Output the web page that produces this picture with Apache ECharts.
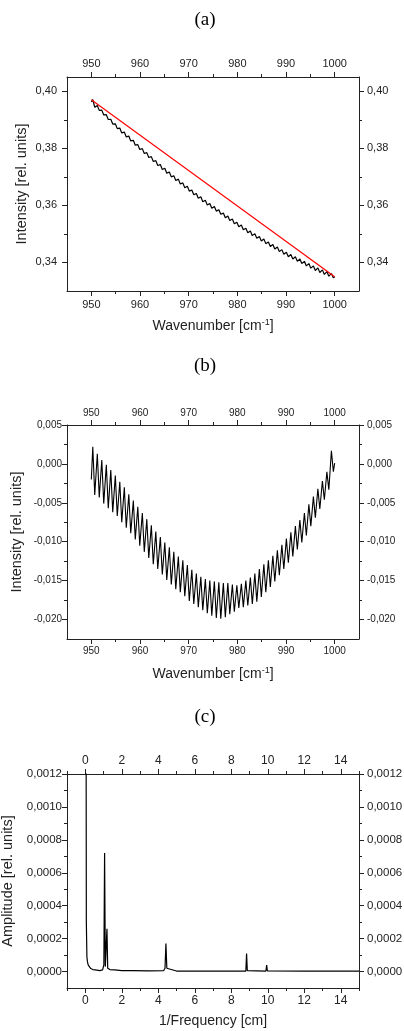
<!DOCTYPE html>
<html>
<head>
<meta charset="utf-8">
<script src="https://cdn.jsdelivr.net/npm/echarts@6/dist/echarts.min.js"></script>
<style>
  html, body { margin: 0; padding: 0; background: #fff; }
  #chart { width: 404px; height: 1031px; }
</style>
</head>
<body>
<div id="chart"></div>
<script>
// Wavenumber grid shared by the raw spectrum (a) and the residual (b), cm^-1
const wavenumber = [
  950.00,
  950.30, 950.70, 951.23, 951.63, 952.15, 952.55, 953.08, 953.48, 954.00, 954.40,
  954.93, 955.33, 955.85, 956.25, 956.78, 957.18, 957.70, 958.10, 958.63, 959.03,
  959.55, 959.95, 960.48, 960.88, 961.40, 961.80, 962.33, 962.73, 963.25, 963.65,
  964.18, 964.58, 965.10, 965.50, 966.03, 966.43, 966.95, 967.35, 967.88, 968.28,
  968.80, 969.20, 969.73, 970.13, 970.65, 971.05, 971.58, 971.98, 972.50, 972.90,
  973.43, 973.83, 974.35, 974.75, 975.28, 975.68, 976.20, 976.60, 977.13, 977.53,
  978.05, 978.45, 978.98, 979.38, 979.90, 980.30, 980.83, 981.23, 981.75, 982.15,
  982.68, 983.08, 983.60, 984.00, 984.53, 984.93, 985.45, 985.85, 986.38, 986.78,
  987.30, 987.70, 988.23, 988.63, 989.15, 989.55, 990.08, 990.48, 991.00, 991.40,
  991.93, 992.33, 992.85, 993.25, 993.78, 994.18, 994.70, 995.10, 995.63, 996.03,
  996.55, 996.95, 997.48, 997.88, 998.40, 998.80, 999.33, 999.73,
  1000.00
];

// (a) measured intensity, rel. units
const intensity = [
  0.3963,
  0.3971, 0.3944, 0.3950, 0.3933, 0.3934, 0.3917, 0.3918, 0.3901, 0.3902, 0.3885,
  0.3886, 0.3869, 0.3871, 0.3854, 0.3857, 0.3840, 0.3843, 0.3826, 0.3828, 0.3811,
  0.3813, 0.3796, 0.3799, 0.3782, 0.3785, 0.3768, 0.3771, 0.3754, 0.3757, 0.3740,
  0.3743, 0.3726, 0.3730, 0.3713, 0.3717, 0.3700, 0.3704, 0.3687, 0.3692, 0.3675,
  0.3679, 0.3662, 0.3667, 0.3650, 0.3654, 0.3637, 0.3642, 0.3625, 0.3630, 0.3613,
  0.3618, 0.3601, 0.3607, 0.3590, 0.3596, 0.3580, 0.3585, 0.3569, 0.3573, 0.3557,
  0.3563, 0.3547, 0.3552, 0.3536, 0.3541, 0.3525, 0.3531, 0.3515, 0.3520, 0.3504,
  0.3510, 0.3494, 0.3501, 0.3485, 0.3491, 0.3475, 0.3482, 0.3466, 0.3472, 0.3456,
  0.3463, 0.3447, 0.3454, 0.3438, 0.3445, 0.3429, 0.3436, 0.3420, 0.3428, 0.3412,
  0.3420, 0.3404, 0.3412, 0.3396, 0.3404, 0.3388, 0.3396, 0.3380, 0.3388, 0.3372,
  0.3381, 0.3365, 0.3374, 0.3358, 0.3368, 0.3352, 0.3361, 0.3346,
  0.3350
];

// (a) straight baseline through the end points
const baselineX = [950, 1000];
const baselineY = [0.3970, 0.3350];

// (b) residual after baseline removal, rel. units
const residual = [
  -0.0020,
  0.0022, -0.0040, 0.0013, -0.0043, 0.0005, -0.0051, -0.0001, -0.0057, -0.0008, -0.0062,
  -0.0015, -0.0067, -0.0023, -0.0075, -0.0030, -0.0082, -0.0039, -0.0089, -0.0047, -0.0097,
  -0.0055, -0.0105, -0.0063, -0.0113, -0.0071, -0.0121, -0.0079, -0.0129, -0.0087, -0.0135,
  -0.0094, -0.0142, -0.0101, -0.0149, -0.0107, -0.0155, -0.0113, -0.0161, -0.0119, -0.0165,
  -0.0124, -0.0170, -0.0130, -0.0176, -0.0136, -0.0180, -0.0141, -0.0184, -0.0145, -0.0188,
  -0.0148, -0.0192, -0.0150, -0.0195, -0.0151, -0.0198, -0.0152, -0.0199, -0.0153, -0.0197,
  -0.0153, -0.0193, -0.0155, -0.0190, -0.0156, -0.0185, -0.0154, -0.0184, -0.0150, -0.0182,
  -0.0146, -0.0180, -0.0141, -0.0177, -0.0135, -0.0171, -0.0129, -0.0165, -0.0124, -0.0158,
  -0.0118, -0.0151, -0.0111, -0.0143, -0.0104, -0.0135, -0.0096, -0.0127, -0.0088, -0.0119,
  -0.0080, -0.0110, -0.0072, -0.0101, -0.0063, -0.0092, -0.0052, -0.0080, -0.0042, -0.0069,
  -0.0032, -0.0058, -0.0022, -0.0046, -0.0010, -0.0033, 0.0017, -0.0010,
  0.0001
];

// (c) Fourier amplitude spectrum of the residual
const invFrequency = [
  0.03, 0.06, 0.09, 0.12, 0.16, 0.22, 0.30, 0.42, 0.55, 0.60, 0.65, 0.80, 0.95, 1.02,
  1.06, 1.10, 1.16, 1.19, 1.23, 1.35, 1.60, 2.00, 2.55, 2.60, 2.65, 3.50, 4.30, 4.37,
  4.42, 4.47, 4.55, 5.00, 5.60, 5.63, 5.66, 7.00, 8.80, 8.84, 8.88, 9.90, 9.94, 9.98,
  12.00, 15.00
];
const amplitude = [
  0.0030, 0.00030, 0.00009, 0.00006, 0.000040, 0.000028, 0.000018, 0.000012, 0.000010, 0.000020,
  0.000008, 0.000006, 0.000010, 0.000040, 0.00072, 0.000030, 0.000020, 0.00026, 0.000020, 0.000012,
  0.000010, 0.000006, 0.000006, 0.000012, 0.000005, 0.000004, 0.000006, 0.000020, 0.00017, 0.000020,
  0.000008, 0.000003, 0.000003, 0.000010, 0.000003, 0.000002, 0.000003, 0.00011, 0.000005, 0.000003,
  0.00004, 0.000004, 0.000002, 0.000002
];

// Tick positions
const waveTicks = [950, 960, 970, 980, 990, 1000];
const waveMinor = [955, 965, 975, 985, 995];
const intensityTicks = [0.34, 0.36, 0.38, 0.40];
const intensityMinor = [0.35, 0.37, 0.39];
const residualTicks = [0.005, 0.000, -0.005, -0.010, -0.015, -0.020];
const residualMinor = [0.0025, -0.0025, -0.0075, -0.0125, -0.0175];
const invFreqTicks = [0, 2, 4, 6, 8, 10, 12, 14];
const invFreqMinor = [-1, 1, 3, 5, 7, 9, 11, 13, 15];
const amplitudeTicks = [0, 0.0002, 0.0004, 0.0006, 0.0008, 0.0010, 0.0012];
const amplitudeMinor = [0.0001, 0.0003, 0.0005, 0.0007, 0.0009, 0.0011];

const FONT = '"Liberation Sans", Arial, Helvetica, sans-serif';
const SERIF = '"Liberation Serif", "Times New Roman", serif';
const INK = '#222';

function fmt(decimals) {
  return v => decimals === 0 ? String(Math.round(v)) : Number(v).toFixed(decimals).replace('.', ',');
}

const frameLine = { show: true, onZero: false, lineStyle: { color: INK, width: 1 } };
const hiddenLine = { show: false, onZero: false };

// Four axes per side: main bottom/left, mirrored top/right, and two for minor ticks
function xAxes(grid, min, max, majors, minors, decimals, fontSize, name, nameGap, margins) {
  const common = { type: 'value', gridIndex: grid, min, max, splitLine: { show: false } };
  const label = (margin) => ({
    customValues: majors, formatter: fmt(decimals), margin,
    fontFamily: FONT, fontSize, color: INK
  });
  return [
    Object.assign({}, common, {
      position: 'bottom',
      axisLine: frameLine,
      axisTick: { show: true, customValues: majors, length: 5, lineStyle: { color: INK } },
      axisLabel: label(margins[0]),
      name, nameLocation: 'middle', nameGap, nameMoveOverlap: false,
      nameTextStyle: {
        fontFamily: FONT, fontSize: 14, color: INK,
        rich: {
          t: { fontFamily: FONT, fontSize: 14, color: INK, lineHeight: 16 },
          s: { fontFamily: FONT, fontSize: 9, color: INK, lineHeight: 9, verticalAlign: 'top', padding: [0, 0, 8, 0] }
        }
      }
    }),
    Object.assign({}, common, {
      position: 'top',
      axisLine: frameLine,
      axisTick: { show: true, customValues: majors, length: 5, lineStyle: { color: INK } },
      axisLabel: label(margins[1])
    }),
    Object.assign({}, common, {
      position: 'bottom', axisLine: hiddenLine, axisLabel: { show: false },
      axisTick: { show: true, customValues: minors, length: 3, lineStyle: { color: INK } }
    }),
    Object.assign({}, common, {
      position: 'top', axisLine: hiddenLine, axisLabel: { show: false },
      axisTick: { show: true, customValues: minors, length: 3, lineStyle: { color: INK } }
    })
  ];
}

function yAxes(grid, min, max, majors, minors, decimals, fontSize, name, nameGap, margins) {
  const common = { type: 'value', gridIndex: grid, min, max, splitLine: { show: false } };
  const label = (margin) => ({
    customValues: majors, formatter: fmt(decimals), margin,
    fontFamily: FONT, fontSize, color: INK
  });
  return [
    Object.assign({}, common, {
      position: 'left',
      axisLine: frameLine,
      axisTick: { show: true, customValues: majors, length: 5, lineStyle: { color: INK } },
      axisLabel: label(margins[0]),
      name, nameLocation: 'middle', nameGap, nameMoveOverlap: false,
      nameTextStyle: { fontFamily: FONT, fontSize: 14.5, color: INK }
    }),
    Object.assign({}, common, {
      position: 'right',
      axisLine: frameLine,
      axisTick: { show: true, customValues: majors, length: 5, lineStyle: { color: INK } },
      axisLabel: label(margins[1])
    }),
    Object.assign({}, common, {
      position: 'left', axisLine: hiddenLine, axisLabel: { show: false },
      axisTick: { show: true, customValues: minors, length: 3, lineStyle: { color: INK } }
    }),
    Object.assign({}, common, {
      position: 'right', axisLine: hiddenLine, axisLabel: { show: false },
      axisTick: { show: true, customValues: minors, length: 3, lineStyle: { color: INK } }
    })
  ];
}

const pairs = (xs, ys) => xs.map((x, i) => [x, ys[i]]);

const gridBox = (top) => ({
  left: 67, right: 45, top, height: 214, show: false,
  containLabel: false, outerBoundsMode: 'none'
});

const option = {
  animation: false,
  backgroundColor: '#fff',
  grid: [gridBox(77), gridBox(425), gridBox(774)],
  xAxis: [].concat(
    xAxes(0, 945, 1005, waveTicks, waveMinor, 0, 11, '{t|Wavenumber [cm}{s|-1}{t|]}', 27, [8, 8]),
    xAxes(1, 945, 1005, waveTicks, waveMinor, 0, 10, '{t|Wavenumber [cm}{s|-1}{t|]}', 27, [7, 7]),
    xAxes(2, -1, 15, invFreqTicks, invFreqMinor, 0, 12, '1/Frequency [cm]', 26, [7, 7])
  ),
  yAxis: [].concat(
    yAxes(0, 0.33, 0.405, intensityTicks, intensityMinor, 2, 11, 'Intensity [rel. units]', 38, [10, 8]),
    yAxes(1, -0.0225, 0.005, residualTicks, residualMinor, 3, 10, 'Intensity [rel. units]', 43, [5, 8]),
    yAxes(2, -0.0001, 0.0012, amplitudeTicks, amplitudeMinor, 4, 11.5, 'Amplitude [rel. units]', 52, [5, 8])
  ),
  series: [
    {
      type: 'line', xAxisIndex: 0, yAxisIndex: 0, data: pairs(wavenumber, intensity),
      showSymbol: false, lineStyle: { color: '#000', width: 1.2 }, z: 3
    },
    {
      type: 'line', xAxisIndex: 0, yAxisIndex: 0, data: pairs(baselineX, baselineY),
      showSymbol: false, lineStyle: { color: '#ff0000', width: 1.2 }, z: 4
    },
    {
      type: 'line', xAxisIndex: 4, yAxisIndex: 4, data: pairs(wavenumber, residual),
      showSymbol: false, lineStyle: { color: '#000', width: 1.1 }
    },
    {
      type: 'line', xAxisIndex: 8, yAxisIndex: 8, data: pairs(invFrequency, amplitude),
      showSymbol: false, lineStyle: { color: '#000', width: 1.2 }, clip: true
    }
  ],
  graphic: [
    { type: 'text', x: 205, y: 20, style: { text: '(a)', font: '19px ' + SERIF, fill: '#000', textAlign: 'center', textVerticalAlign: 'middle' } },
    { type: 'text', x: 205, y: 366, style: { text: '(b)', font: '19px ' + SERIF, fill: '#000', textAlign: 'center', textVerticalAlign: 'middle' } },
    { type: 'text', x: 205, y: 717, style: { text: '(c)', font: '19px ' + SERIF, fill: '#000', textAlign: 'center', textVerticalAlign: 'middle' } }
  ]
};

const chart = echarts.init(document.getElementById('chart'), null, { renderer: 'canvas' });
chart.setOption(option);
</script>
</body>
</html>
